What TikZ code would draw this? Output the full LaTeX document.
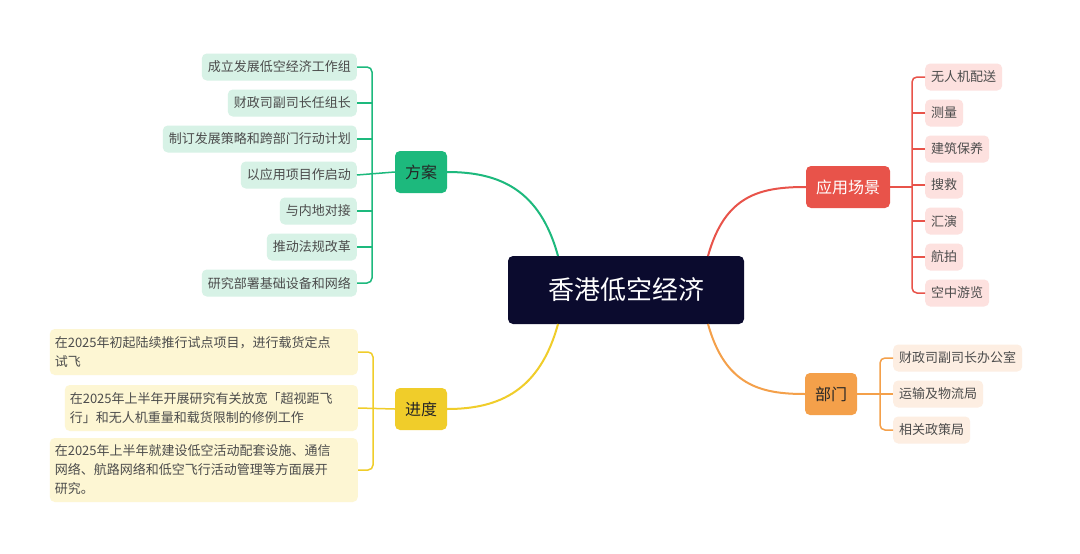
\documentclass[tikz,border=0pt]{standalone}
\usepackage{fontspec}
\setmainfont{Noto Sans CJK SC}
\usetikzlibrary{positioning}
\definecolor{navy}{HTML}{0B0B2E}
\definecolor{gmain}{HTML}{1DB97D}
\definecolor{gleaf}{HTML}{D7F2E6}
\definecolor{ymain}{HTML}{F0CD2A}
\definecolor{yleaf}{HTML}{FDF6D3}
\definecolor{rmain}{HTML}{E8534A}
\definecolor{rleaf}{HTML}{FDE1DF}
\definecolor{omain}{HTML}{F4A04A}
\definecolor{oleaf}{HTML}{FDEEE2}
\tikzset{
  cat/.style={rounded corners=5pt,minimum height=42pt,inner xsep=10pt,font=\fontsize{16}{18}\selectfont},
  leaf/.style={rounded corners=5pt,minimum height=27pt,inner xsep=6pt,font=\fontsize{13}{16}\selectfont,text=black!70},
  bigleaf/.style={rounded corners=5pt,inner sep=5pt,align=left,font=\fontsize{13}{19}\selectfont,text=black!70},
  twig/.style={line width=1.5pt,rounded corners=5pt}
}
\begin{document}
\begin{tikzpicture}[x=1pt,y=-1pt]
\useasboundingbox[fill=white] (0,0) rectangle (1080,554);
% root
\node[fill=navy,text=white,rounded corners=5pt,minimum width=236pt,minimum height=68pt,font=\fontsize{26}{30}\selectfont] (root) at (626,290) {香港低空经济};
% categories
\node[cat,fill=gmain,text=black!85] (plan) at (421,172) {方案};
\node[cat,fill=ymain,text=black!85] (prog) at (421,409) {进度};
\node[cat,fill=rmain,text=white] (app) at (848,187) {应用场景};
\node[cat,fill=omain,text=black!85] (dept) at (831,394) {部门};
\draw[gmain,line width=2pt] (558,256) .. controls (540,190) and (500,172) .. (plan.east);
\draw[ymain,line width=2pt] (558,324) .. controls (540,390) and (500,409) .. (prog.east);
\draw[rmain,line width=2pt] (708,256) .. controls (725,195) and (760,187) .. (app.west);
\draw[omain,line width=2pt] (708,324) .. controls (725,385) and (760,394) .. (dept.west);
% 方案
\foreach \t [count=\i] in {成立发展低空经济工作组,财政司副司长任组长,制订发展策略和跨部门行动计划,以应用项目作启动,与内地对接,推动法规改革,研究部署基础设备和网络}{
  \node[leaf,fill=gleaf,anchor=east] (p\i) at (357,31+36*\i) {\t};
}
\draw[twig,gmain] (p1.east) -| (372,172) |- (p7.east);
\draw[twig,gmain] (plan.west) -- (p4.east);
\foreach \i in {2,3,5,6}{\draw[twig,gmain] (p\i.east) -- (372,31+36*\i);}
% 进度
\node[bigleaf,fill=yleaf,anchor=east,minimum height=46pt,text width=298pt] (s1) at (358,352) {在2025年初起陆续推行试点项目，进行载货定点\\试飞};
\node[bigleaf,fill=yleaf,anchor=east,minimum height=46pt,text width=283pt] (s2) at (358,408) {在2025年上半年开展研究有关放宽「超视距飞\\行」和无人机重量和载货限制的修例工作};
\node[bigleaf,fill=yleaf,anchor=east,minimum height=64pt,text width=298pt] (s3) at (358,470) {在2025年上半年就建设低空活动配套设施、通信\\网络、航路网络和低空飞行活动管理等方面展开\\研究。};
\draw[twig,ymain] (s1.east) -| (373,409) |- (s3.east);
\draw[twig,ymain] (prog.west) -- (s2.east);
% 应用场景
\foreach \t [count=\i] in {无人机配送,测量,建筑保养,搜救,汇演,航拍,空中游览}{
  \node[leaf,fill=rleaf,anchor=west] (a\i) at (925,41+36*\i) {\t};
}
\draw[twig,rmain] (a1.west) -| (912,187) |- (a7.west);
\draw[twig,rmain] (app.east) -- (912,187);
\foreach \i in {2,3,4,5,6}{\draw[twig,rmain] (a\i.west) -- (912,41+36*\i);}
% 部门
\foreach \t [count=\i] in {财政司副司长办公室,运输及物流局,相关政策局}{
  \node[leaf,fill=oleaf,anchor=west] (d\i) at (893,322+36*\i) {\t};
}
\draw[twig,omain] (d1.west) -| (880,394) |- (d3.west);
\draw[twig,omain] (dept.east) -- (d2.west);
\end{tikzpicture}
\end{document}
